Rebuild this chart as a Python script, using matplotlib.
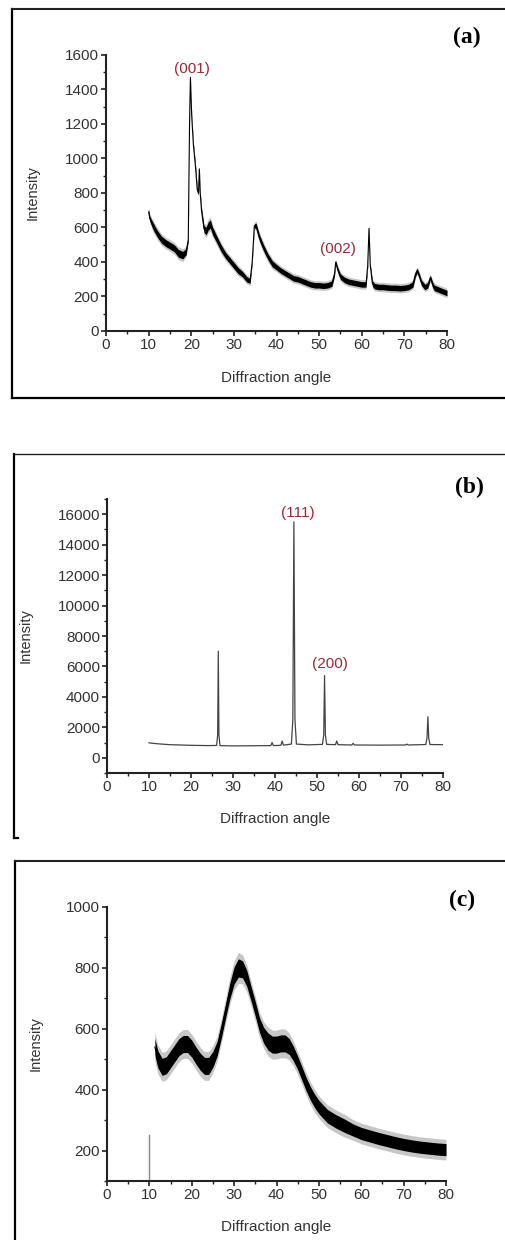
import matplotlib
matplotlib.use("Agg")
import matplotlib.pyplot as plt
from matplotlib.ticker import MultipleLocator
from matplotlib.lines import Line2D

plt.rcParams['font.family'] = ['Liberation Sans', 'DejaVu Sans']

# ---- panel (a) ----
a_angle = [10.0, 10.3, 11, 12, 13, 14, 15, 16, 17, 18, 18.8, 19.3, 19.6, 19.8, 20.1,
           20.5, 21.0, 21.4, 21.7, 21.9, 22.1, 22.4, 23.0, 23.5, 24.0, 24.5, 25.0,
           26, 27, 28, 29, 30, 31, 32, 33, 33.8, 34.3, 34.8, 35.2, 36, 37, 38, 39,
           40, 41, 42, 43, 44, 45, 46, 47, 48, 49, 50, 51, 52, 53, 53.6, 53.9, 54.3,
           55, 56, 57, 58, 59, 60, 61, 61.4, 61.7, 62.0, 62.5, 63, 64, 65, 66, 67,
           68, 69, 70, 71, 72, 72.6, 73.0, 73.5, 74, 74.8, 75.5, 76.1, 76.6, 77,
           78, 79, 80]
a_int = [690, 650, 610, 565, 530, 510, 495, 480, 450, 440, 460, 530, 1200, 1470, 1250,
         1080, 950, 820, 800, 940, 800, 700, 590, 580, 610, 620, 580,
         530, 480, 440, 410, 380, 350, 330, 300, 290, 400, 610, 610, 540, 480, 430, 390,
         370, 350, 335, 320, 305, 300, 290, 280, 270, 265, 265, 262, 265, 275, 330, 400, 360,
         315, 295, 285, 280, 275, 270, 270, 380, 595, 380, 275, 260, 255, 255, 252, 250,
         250, 248, 250, 255, 270, 330, 350, 320, 280, 255, 265, 310, 270, 250,
         240, 230, 220]
a_spread = [15, 15, 20, 20, 20, 20, 20, 20, 22, 22, 18, 10, 4, 4, 8,
            10, 12, 12, 10, 4, 10, 14, 20, 22, 24, 24, 22,
            20, 20, 18, 18, 18, 18, 16, 16, 14, 8, 12, 16, 18, 18, 18, 18,
            16, 16, 16, 16, 16, 16, 16, 16, 16, 16, 16, 16, 16, 16, 12, 8, 14,
            16, 16, 16, 16, 16, 16, 16, 8, 4, 8, 16, 16, 16, 16, 16, 16,
            16, 16, 16, 16, 16, 14, 14, 14, 16, 16, 16, 12, 16, 16,
            16, 16, 16]

# ---- panel (b) ----
b_angle = [10, 12, 15, 20, 24, 26.1, 26.35, 26.5, 26.65, 26.9, 30, 35, 39.0, 39.3, 39.6,
           41.4, 41.7, 42.0, 43.9, 44.25, 44.5, 44.75, 45.1, 48, 51.3, 51.6, 51.8, 52.0, 52.3,
           54.4, 54.7, 55.0, 58.3, 58.6, 58.9, 65, 71.1, 71.4, 71.7,
           75.9, 76.2, 76.4, 76.6, 76.9, 80]
b_int = [980, 920, 860, 820, 800, 810, 1500, 7000, 1500, 800, 780, 790, 800, 1000, 800,
         820, 1100, 830, 900, 2500, 15500, 2500, 900, 850, 880, 1500, 5400, 1500, 880,
         860, 1100, 860, 840, 950, 840, 830, 840, 900, 840,
         870, 1300, 2700, 1300, 870, 860]

# ---- panel (c) ----
c_angle = [11.3, 12, 13, 14, 15, 16, 17, 18, 19, 20, 21, 22, 23, 24, 25, 26, 27, 28, 29,
           30, 31, 32, 33, 34, 35, 36, 37, 38, 39, 40, 41, 42, 43, 44, 45, 46, 47, 48, 49,
           50, 51, 52, 54, 56, 58, 60, 62, 64, 66, 68, 70, 72, 74, 76, 78, 80]
c_int = [540, 500, 475, 480, 500, 520, 540, 550, 550, 535, 512, 492, 478, 478, 500, 535,
         595, 660, 725, 775, 800, 795, 765, 715, 665, 612, 578, 558, 548, 548, 552, 552,
         542, 518, 488, 453, 418, 388, 363, 343, 328, 313, 296, 282, 268, 256, 248, 240,
         233, 226, 220, 215, 211, 208, 205, 203]
c_spread = [28, 28, 28, 28, 28, 28, 28, 28, 28, 28, 28, 28, 28, 28, 26, 24, 24, 24, 26,
            28, 30, 28, 26, 24, 24, 24, 26, 28, 28, 28, 28, 28, 26, 24, 22, 22, 22, 22, 22,
            22, 22, 22, 22, 22, 20, 20, 20, 20, 20, 20, 20, 20, 20, 20, 20, 20]
c_stray_x = [10, 10]
c_stray_y = [100, 250]

panel_labels = ['(a)', '(b)', '(c)']
peak_labels_a = [('(001)', 20.2, 1520), ('(002)', 54.4, 475)]
peak_labels_b = [('(111)', 45.5, 16100), ('(200)', 53.1, 6150)]

W, H = 506, 1240
fig = plt.figure(figsize=(W / 100, H / 100), dpi=100)
fig.patch.set_facecolor('white')

txt = '#333333'
red = '#9b2a35'


def style_axes(ax, ymin, ymax, ymaj, ymin_step):
    ax.set_xlim(0, 80)
    ax.set_ylim(ymin, ymax)
    ax.xaxis.set_major_locator(MultipleLocator(10))
    ax.xaxis.set_minor_locator(MultipleLocator(5))
    ax.yaxis.set_major_locator(MultipleLocator(ymaj))
    ax.yaxis.set_minor_locator(MultipleLocator(ymin_step))
    for s in ['top', 'right']:
        ax.spines[s].set_visible(False)
    for s in ['left', 'bottom']:
        ax.spines[s].set_linewidth(1.5)
        ax.spines[s].set_color('#222222')
    ax.tick_params(which='major', direction='out', length=3.5, width=1.2,
                   labelsize=11, labelcolor=txt, color='#222222', pad=1.5)
    ax.tick_params(which='minor', direction='out', length=2, width=1.0, color='#222222')
    ax.set_xlabel('Diffraction angle', fontsize=11, color=txt)
    ax.set_ylabel('Intensity', fontsize=10.5, color=txt)


def noisy(ax, x, y, spread):
    # grey fringe, dark core, centre trace
    lo2 = [v - 1.7 * s for v, s in zip(y, spread)]
    hi2 = [v + 1.7 * s for v, s in zip(y, spread)]
    ax.fill_between(x, lo2, hi2, color='#9a9a9a', alpha=0.55, lw=0)
    lo = [v - s for v, s in zip(y, spread)]
    hi = [v + s for v, s in zip(y, spread)]
    ax.fill_between(x, lo, hi, color='black', lw=0)
    ax.plot(x, y, color='black', lw=0.8)


def frame(left, top, bottom, right=W, top_w=1.5, bottom_line=True, corner=False):
    fx = lambda px: px / W
    fy = lambda py: 1 - py / H
    fig.add_artist(Line2D([fx(left), fx(left)], [fy(top), fy(bottom)], color='black', lw=1.6))
    fig.add_artist(Line2D([fx(left), fx(right)], [fy(top), fy(top)], color='#222222', lw=top_w))
    if bottom_line:
        fig.add_artist(Line2D([fx(left), fx(right)], [fy(bottom), fy(bottom)], color='black', lw=1.6))
    if corner:
        fig.add_artist(Line2D([fx(left), fx(left + 4)], [fy(bottom), fy(bottom)], color='black', lw=1.6))


# panel (a)
ax1 = fig.add_axes([106 / W, 1 - 331 / H, 341 / W, 276 / H])
noisy(ax1, a_angle, a_int, a_spread)
style_axes(ax1, 0, 1600, 200, 100)
ax1.yaxis.set_label_coords(-0.196, 0.5)
ax1.xaxis.set_label_coords(0.5, -0.145)
for t, x, y in peak_labels_a:
    ax1.text(x, y, t, color=red, fontsize=11, ha='center', va='center')
fig.text(467 / W, 1 - 37 / H, panel_labels[0], family='Liberation Serif',
         fontweight='bold', fontsize=17, ha='center', va='center')
frame(12, 9, 398)

# panel (b)
ax2 = fig.add_axes([107 / W, 1 - 773 / H, 336 / W, 274 / H])
ax2.plot(b_angle, b_int, color='#444444', lw=0.9)
style_axes(ax2, -1000, 17000, 2000, 1000)
ax2.yaxis.set_label_coords(-0.22, 0.5)
ax2.xaxis.set_label_coords(0.5, -0.142)
for t, x, y in peak_labels_b:
    ax2.text(x, y, t, color=red, fontsize=11, ha='center', va='center')
fig.text(469 / W, 1 - 487 / H, panel_labels[1], family='Liberation Serif',
         fontweight='bold', fontsize=17, ha='center', va='center')
frame(14, 454, 838, top_w=1.0, bottom_line=False, corner=True)

# panel (c)
ax3 = fig.add_axes([107 / W, 1 - 1181 / H, 339 / W, 274 / H])
noisy(ax3, c_angle, c_int, c_spread)
ax3.plot(c_stray_x, c_stray_y, color='#888888', lw=1.0)
style_axes(ax3, 100, 1000, 200, 100)
ax3.yaxis.set_label_coords(-0.189, 0.5)
ax3.xaxis.set_label_coords(0.5, -0.142)
fig.text(462 / W, 1 - 900 / H, panel_labels[2], family='Liberation Serif',
         fontweight='bold', fontsize=17, ha='center', va='center')
frame(15, 861, H + 5, bottom_line=False)

fig.savefig('out.png', dpi=100, facecolor='white')
